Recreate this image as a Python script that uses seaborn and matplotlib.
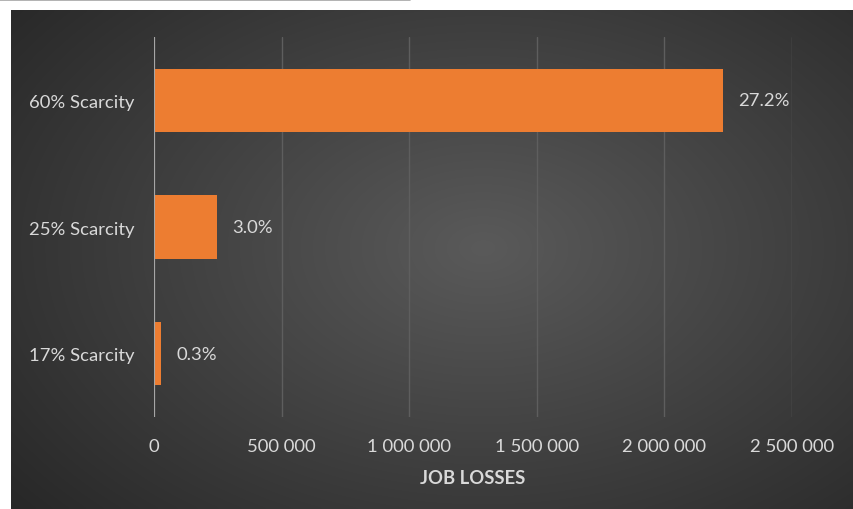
import numpy as np
import pandas as pd
import matplotlib
matplotlib.use("Agg")
import matplotlib.pyplot as plt
import seaborn as sns
from matplotlib.ticker import FuncFormatter
from matplotlib.lines import Line2D

categories = ["60% Scarcity", "25% Scarcity", "17% Scarcity"]
job_losses = [2230000, 247000, 27000]
pct_labels = ["27.2%", "3.0%", "0.3%"]
x_ticks = [0, 500000, 1000000, 1500000, 2000000, 2500000]

sns.set_theme(style="dark")
plt.rcParams['font.family'] = ['Lato', 'DejaVu Sans']

W, H = 854, 510
fig = plt.figure(figsize=(W / 100, H / 100), dpi=100)
fig.patch.set_facecolor("white")

# background gradient panel
bg = fig.add_axes([11 / W, 0, 1 - 11 / W, (H - 11) / H])
yy, xx = np.mgrid[0:200, 0:340]
cx, cy = 190, 95
d = np.sqrt(((xx - cx) / 260.0) ** 2 + ((yy - cy) / 170.0) ** 2)
d = np.clip(d, 0, 1)
inner = np.array([0x5a, 0x5a, 0x5a]) / 255
outer = np.array([0x25, 0x25, 0x25]) / 255
img = inner[None, None, :] * (1 - d[..., None]) + outer[None, None, :] * d[..., None]
bg.imshow(img, aspect="auto", extent=[0, 1, 0, 1], interpolation="bicubic")
bg.set_axis_off()

fig.add_artist(Line2D([0, 410 / W], [1 - 1 / H, 1 - 1 / H], color="#a6a6a6", lw=1.2))

ax = fig.add_axes([154 / W, (H - 418) / H, (792 - 154) / W, 380 / H])
ax.patch.set_alpha(0)

df = pd.DataFrame({"category": categories, "losses": job_losses})
sns.barplot(data=df, x="losses", y="category", order=categories, color="#ED7D31",
            saturation=1, width=0.5, orient="h", ax=ax, edgecolor="none", linewidth=0)

ax.set_xlim(0, 2500000)
ax.set_ylim(2.5, -0.5)
ax.set_xticks(x_ticks)
ax.xaxis.set_major_formatter(FuncFormatter(lambda v, p: f"{int(v):,}".replace(",", " ")))
ax.grid(True, axis="x", color="#5e5e5e", lw=1)
ax.grid(False, axis="y")
ax.set_axisbelow(True)
for s in ax.spines.values():
    s.set_visible(False)
ax.axvline(0, color="#a6a6a6", lw=1.5, zorder=1)

ax.tick_params(axis="both", length=0, colors="#d9d9d9", labelsize=13.3)
ax.tick_params(axis="x", pad=15)
ax.tick_params(axis="y", pad=14)
ax.set_ylabel("")
ax.set_xlabel("JOB LOSSES", color="#d9d9d9", fontsize=13.3, fontweight="bold", labelpad=11)

for i, (v, t) in enumerate(zip(job_losses, pct_labels)):
    ax.annotate(t, (v, i), xytext=(11, 0), textcoords="offset points", va="center",
                ha="left", color="#d9d9d9", fontsize=13.3)

fig.savefig("out.png", dpi=100, facecolor=fig.get_facecolor())
